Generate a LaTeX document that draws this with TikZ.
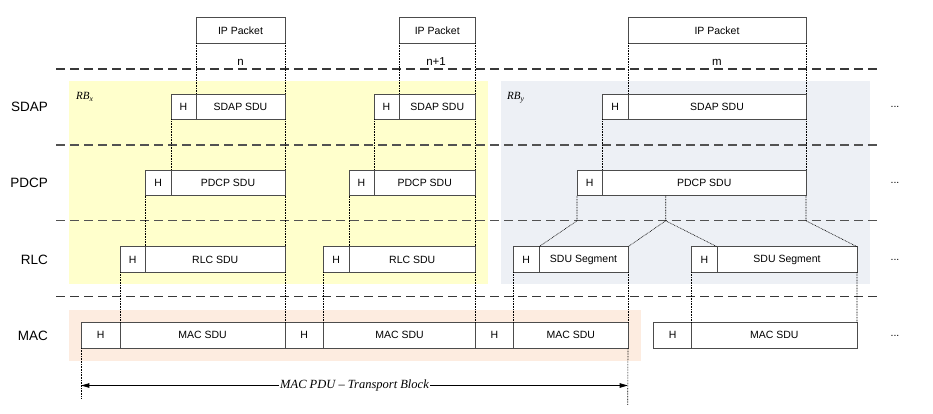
\documentclass[tikz,border=0pt]{standalone}
\usepackage{fontspec}
\setmainfont{Liberation Sans}
\newfontfamily\tms{Liberation Serif}
\usetikzlibrary{arrows.meta}
\definecolor{ybg}{RGB}{255,255,204}
\definecolor{bbg}{RGB}{237,240,245}
\definecolor{obg}{RGB}{253,236,224}
\tikzset{
  pbox/.style={draw=black!70, line width=0.9pt, fill=white, inner sep=0pt, outer sep=0pt,
    minimum height=25.5pt, anchor=north west, font=\fontsize{10.5}{12}\selectfont},
  lay/.style={anchor=east, inner sep=0pt, font=\fontsize{13.5}{16}\selectfont},
  dotsl/.style={inner sep=0pt, font=\fontsize{10.5}{12}\selectfont},
  numl/.style={anchor=base, inner sep=0pt, font=\fontsize{11.5}{13}\selectfont},
  rbl/.style={anchor=base west, inner sep=0pt, font=\tms\itshape\fontsize{11}{13}\selectfont},
  sepline/.style={line width=1.3pt, dash pattern=on 9pt off 5pt},
  link/.style={line width=0.6pt, dash pattern=on 0.8pt off 0.8pt},
  tip/.tip={Triangle[length=8pt,width=4.5pt]},
}
\newcommand\pb[5]{\node[pbox, minimum width={#3-#2}] (#1) at (#2,#4) {#5};}
\begin{document}
\begin{tikzpicture}[x=1pt,y=-1pt]
\useasboundingbox (0,0) rectangle (933,414);
% shaded regions
\fill[ybg] (69,81.5) rectangle (488,284);
\fill[bbg] (501,81.5) rectangle (870,284);
\fill[obg] (69,310) rectangle (641,361);
% separators
\draw[sepline, black!78] (56,69) -- (880,69);
\draw[sepline, black!68] (56,145) -- (880,145);
\draw[sepline, black!68] (56,220.7) -- (880,220.7);
\draw[sepline, black!78] (56,296.7) -- (880,296.7);
% layer labels
\node[lay] (lsdap) at (48,107) {SDAP};
\node[lay] (lpdcp) at (48,183) {PDCP};
\node[lay] (lrlc) at (48,259.5) {RLC};
\node[lay] (lmac) at (48,335.5) {MAC};
\node[dotsl] (d1) at (895,107) {...};
\node[dotsl] (d2) at (895,183) {...};
\node[dotsl] (d3) at (895,259.5) {...};
\node[dotsl] (d4) at (895,335.5) {...};
% RB labels
\node[rbl] (rbx) at (76,99.5) {RB\textsubscript{x}};
\node[rbl] (rby) at (507,99.5) {RB\textsubscript{y}};
% IP packets
\pb{ip1}{196}{285}{17.7}{IP Packet}
\pb{ip2}{399}{475.5}{17.7}{IP Packet}
\pb{ip3}{628}{806}{17.7}{IP Packet}
\node[numl] (n1) at (240.5,66) {n};
\node[numl] (n2) at (436,66) {n+1};
\node[numl] (n3) at (717,66) {m};
% SDAP
\pb{sh1}{171}{196}{94}{H}
\pb{ss1}{196}{285}{94}{SDAP SDU}
\pb{sh2}{374}{399}{94}{H}
\pb{ss2}{399}{475.5}{94}{SDAP SDU}
\pb{sh3}{602.5}{628}{94}{H}
\pb{ss3}{628}{806}{94}{SDAP SDU}
% PDCP
\pb{ph1}{145.5}{171}{170.3}{H}
\pb{ps1}{171}{285}{170.3}{PDCP SDU}
\pb{ph2}{349}{374}{170.3}{H}
\pb{ps2}{374}{475.5}{170.3}{PDCP SDU}
\pb{ph3}{577}{602.5}{170.3}{H}
\pb{ps3}{602.5}{806}{170.3}{PDCP SDU}
% RLC
\pb{rh1}{120}{145.5}{246.7}{H}
\pb{rs1}{145.5}{285}{246.7}{RLC SDU}
\pb{rh2}{323.5}{349}{246.7}{H}
\pb{rs2}{349}{475.5}{246.7}{RLC SDU}
\pb{rh3}{513.5}{539}{246.7}{H}
\pb{rs3}{539}{628}{246.7}{SDU Segment}
\pb{rh4}{691.7}{717}{246.7}{H}
\pb{rs4}{717}{857}{246.7}{SDU Segment}
% MAC
\pb{mh1}{81.3}{120}{322.5}{H}
\pb{ms1}{120}{285}{322.5}{MAC SDU}
\pb{mh2}{285}{323.5}{322.5}{H}
\pb{ms2}{323.5}{475.5}{322.5}{MAC SDU}
\pb{mh3}{475.5}{513.5}{322.5}{H}
\pb{ms3}{513.5}{628}{322.5}{MAC SDU}
\pb{mh4}{653.5}{691.7}{322.5}{H}
\pb{ms4}{691.7}{857}{322.5}{MAC SDU}
% dotted links
\draw[link] (ip1.south west) -- (ss1.north west);
\draw[link] (ip1.south east) -- (ss1.north east);
\draw[link] (sh1.south west) -- (ps1.north west);
\draw[link] (ss1.south east) -- (ps1.north east);
\draw[link] (ph1.south west) -- (rs1.north west);
\draw[link] (ps1.south east) -- (rs1.north east);
\draw[link] (rh1.south west) -- (ms1.north west);
\draw[link] (rs1.south east) -- (ms1.north east);
\draw[link] (ip2.south west) -- (ss2.north west);
\draw[link] (ip2.south east) -- (ss2.north east);
\draw[link] (sh2.south west) -- (ps2.north west);
\draw[link] (ss2.south east) -- (ps2.north east);
\draw[link] (ph2.south west) -- (rs2.north west);
\draw[link] (ps2.south east) -- (rs2.north east);
\draw[link] (rh2.south west) -- (ms2.north west);
\draw[link] (rs2.south east) -- (ms2.north east);
\draw[link] (ip3.south west) -- (ss3.north west);
\draw[link] (ip3.south east) -- (ss3.north east);
\draw[link] (sh3.south west) -- (ps3.north west);
\draw[link] (ss3.south east) -- (ps3.north east);
\draw[link] (ph3.south west) -- ++(0,25) -- (rs3.north west);
\coordinate (sp) at ([xshift=63.2pt]ps3.south west);
\draw[link] (sp) -- ++(0,25) coordinate (spk) -- (rs3.north east);
\draw[link] (spk) -- (rs4.north west);
\draw[link] (ps3.south east) -- ++(0,25) -- (rs4.north east);
\draw[link] (rh3.south west) -- (ms3.north west);
\draw[link] (rs3.south east) -- (ms3.north east);
\draw[link] (rh4.south west) -- (ms4.north west);
\draw[link] (rs4.south east) -- (ms4.north east);
\coordinate (bL) at (81.3,399);
\coordinate (bR) at (627.7,405);
\draw[link] (mh1.south west) -- (bL);
\draw[link] (ms3.south east) -- (bR);
% transport block arrow
\coordinate (aL) at (81.3,385.5);
\coordinate (aR) at (627.7,385.5);
\draw[{tip}-{tip}, line width=0.8pt] (aL) -- node[fill=white, inner sep=1pt, font=\tms\itshape\fontsize{12.5}{14}\selectfont] (tb) {MAC PDU – Transport Block} (aR);
\end{tikzpicture}
\end{document}
